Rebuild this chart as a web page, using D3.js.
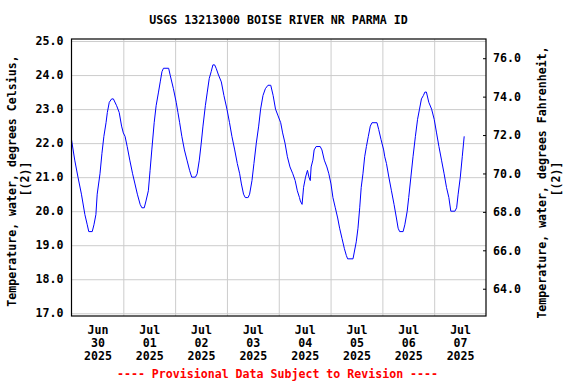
<!DOCTYPE html>
<html>
<head>
<meta charset="utf-8">
<style>
  body { margin: 0; background: #fff; }
  svg text { font-family: "DejaVu Sans Mono", monospace; font-weight: bold; font-size: 11.6px; }
</style>
</head>
<body>
<svg width="576" height="384"></svg>
<script src="https://cdn.jsdelivr.net/npm/d3@7"></script>
<script>
// Data: hours since Jun 30 2025 00:00 and water temperature (deg C)
const obsHours = [0, 1.5, 3, 4.6, 6.2, 7.3, 8, 9.6, 10.4, 11.3, 11.9, 13.2, 14.1, 15, 16, 16.6, 17.5, 18.6, 19.4, 20.9, 22.1, 23.2,
  24, 24.8, 25.8, 27, 28.3, 29.4, 30.5, 31.8, 32.6, 33.7, 34.5, 35.6, 36.4, 37.2, 38.3, 39.2, 40.3, 41.1, 41.9, 42.6, 45, 45.7, 47.2,
  48.5, 49.3, 50.1, 51.1, 52.3, 53.5, 54.7, 55.7, 57.4, 58.2, 59.2, 60.1, 60.9, 62, 62.9, 63.8, 64.7, 65.5, 66.3, 67, 68.1, 69.4, 70.6,
  72, 73.2, 74.3, 75.6, 76.8, 77.9, 78.7, 79.7, 80.5, 81.4, 81.8, 82.5, 83.6, 84.5, 85.6, 86.7, 87.6, 88.7, 89.8, 91, 92.3, 93.4, 94.5, 95.7,
  96.9, 97.8, 98.9, 100, 101.2, 102.5, 103.6, 104.6, 105.6, 106, 106.8, 107.5, 108.4, 109.3, 110, 110.6, 111, 111.8, 112.4, 113.3, 115.2, 116, 117.1, 118.3, 119.2,
  120.2, 121.1, 122.2, 123.3, 124.2, 125.3, 126.4, 127.3, 127.9, 130.4, 131, 131.9, 132.7, 133.5, 134.2, 135, 135.8, 136.6, 137.5, 138.4, 139.2, 141.5, 142.3, 143.4,
  144.6, 145.1, 145.9, 147, 148.2, 149.4, 150.5, 151.3, 152, 153.6, 154.4, 155.5, 156.2, 157.2, 158.2, 159.3, 160.3, 161.2, 162.1, 163, 163.7, 164.4, 165.5, 166.8,
  168, 169.1, 170.2, 171.4, 172.6, 173.7, 174.8, 175.7, 177.6, 178.4, 179.1, 180.1, 181, 181.6, 181.9];
const obsTempC = [22.1, 21.5, 21.0, 20.5, 19.9, 19.6, 19.4, 19.4, 19.6, 19.9, 20.5, 21.1, 21.7, 22.2, 22.6, 22.9, 23.2, 23.3, 23.3, 23.1, 22.9, 22.5,
  22.3, 22.2, 21.9, 21.5, 21.1, 20.8, 20.5, 20.2, 20.1, 20.1, 20.3, 20.6, 21.2, 21.8, 22.6, 23.1, 23.5, 23.8, 24.1, 24.2, 24.2, 24.0, 23.6,
  23.2, 22.9, 22.6, 22.2, 21.8, 21.5, 21.2, 21.0, 21.0, 21.1, 21.5, 22.0, 22.5, 23.1, 23.5, 23.9, 24.1, 24.3, 24.3, 24.2, 24.0, 23.8, 23.4,
  23.0, 22.6, 22.2, 21.8, 21.4, 21.1, 20.8, 20.5, 20.4, 20.4, 20.4, 20.5, 20.9, 21.4, 22.0, 22.5, 23.0, 23.4, 23.6, 23.7, 23.7, 23.4, 23.0, 22.8,
  22.6, 22.3, 22.0, 21.6, 21.3, 21.1, 20.9, 20.6, 20.4, 20.3, 20.2, 20.7, 21.0, 21.2, 21.0, 20.9, 21.3, 21.5, 21.8, 21.9, 21.9, 21.8, 21.5, 21.3, 21.1,
  20.8, 20.4, 20.1, 19.8, 19.5, 19.2, 18.9, 18.7, 18.6, 18.6, 18.8, 19.1, 19.5, 20.1, 20.7, 21.1, 21.6, 21.9, 22.2, 22.5, 22.6, 22.6, 22.4, 22.1,
  21.8, 21.6, 21.4, 21.0, 20.6, 20.2, 19.8, 19.5, 19.4, 19.4, 19.6, 20.0, 20.4, 21.0, 21.6, 22.2, 22.7, 23.0, 23.3, 23.4, 23.5, 23.5, 23.2, 23.0,
  22.7, 22.3, 21.9, 21.5, 21.1, 20.7, 20.4, 20.0, 20.0, 20.1, 20.5, 21.0, 21.6, 22.0, 22.2];

const dayMonths = ['Jun', 'Jul', 'Jul', 'Jul', 'Jul', 'Jul', 'Jul', 'Jul'];
const dayNums = ['30', '01', '02', '03', '04', '05', '06', '07'];
const dayYears = ['2025', '2025', '2025', '2025', '2025', '2025', '2025', '2025'];
const celsiusTicks = [17, 18, 19, 20, 21, 22, 23, 24, 25];
const fahrenheitTicks = [64, 66, 68, 70, 72, 74, 76];

const plot = {left: 71.5, right: 486, top: 39, bottom: 316};
const start = new Date(2025, 5, 30);
const hourMs = 3600 * 1000;

const x = d3.scaleTime()
  .domain([start, new Date(start.getTime() + 8 * 24 * hourMs)])
  .range([plot.left, plot.right]);
const y = d3.scaleLinear().domain([16.92, 25.06]).range([plot.bottom, plot.top]);
// the USGS Fahrenheit axis is scaled on its own
const yF = d3.scaleLinear().domain([62.58, 77.0]).range([plot.bottom, plot.top]);

const svg = d3.select('svg');
const w = plot.right - plot.left;
const h = plot.bottom - plot.top;

const midnights = d3.range(1, 8).map(i => new Date(start.getTime() + i * 24 * hourMs));
const noons = d3.range(8).map(i => new Date(start.getTime() + (i * 24 + 12) * hourMs));

// gridlines
svg.append('g')
  .attr('transform', 'translate(' + plot.left + ',0)')
  .call(d3.axisLeft(y).tickValues(celsiusTicks).tickSize(-w).tickFormat(''))
  .call(g => g.select('.domain').remove())
  .selectAll('line').attr('stroke', '#cccccc');
svg.append('g')
  .attr('transform', 'translate(0,' + plot.bottom + ')')
  .call(d3.axisBottom(x).tickValues(midnights).tickSize(-h).tickFormat(''))
  .call(g => g.select('.domain').remove())
  .selectAll('line').attr('stroke', '#cccccc');

// the series
const line = d3.line()
  .x((d, i) => x(new Date(start.getTime() + obsHours[i] * hourMs)))
  .y(d => y(d));
svg.append('path')
  .datum(obsTempC)
  .attr('fill', 'none')
  .attr('stroke', '#0000ff')
  .attr('stroke-width', 1)
  .attr('d', line);

// frame
svg.append('rect')
  .attr('x', plot.left).attr('y', plot.top)
  .attr('width', w).attr('height', h)
  .attr('fill', 'none').attr('stroke', '#000').attr('stroke-width', 1.2);

// left axis, Celsius
const leftAxis = svg.append('g')
  .attr('transform', 'translate(' + plot.left + ',0)')
  .call(d3.axisLeft(y).tickValues(celsiusTicks).tickSize(0).tickPadding(8).tickFormat(d3.format('.1f')));
leftAxis.select('.domain').remove();
leftAxis.selectAll('text').attr('fill', '#000').style('font-size', '11.6px').style('font-family', '"DejaVu Sans Mono", monospace');

// right axis, Fahrenheit, ticks point inward
const rightAxis = svg.append('g')
  .attr('transform', 'translate(' + plot.right + ',0)')
  .call(d3.axisRight(yF).tickValues(fahrenheitTicks).tickSize(-3).tickPadding(7).tickFormat(d3.format('.1f')));
rightAxis.select('.domain').remove();
rightAxis.selectAll('line').attr('stroke', '#000');
rightAxis.selectAll('text').attr('fill', '#000').style('font-size', '11.6px').style('font-family', '"DejaVu Sans Mono", monospace');

// bottom axis, three-line day labels at noon
const bottomAxis = svg.append('g')
  .attr('transform', 'translate(0,' + plot.bottom + ')')
  .call(d3.axisBottom(x).tickValues(noons).tickSize(0).tickFormat(''));
bottomAxis.select('.domain').remove();
bottomAxis.selectAll('.tick text')
  .attr('y', 0).attr('dy', null)
  .style('font-size', '11.6px').style('font-family', '"DejaVu Sans Mono", monospace')
  .attr('fill', '#000')
  .each(function(d, i) {
    const t = d3.select(this);
    t.append('tspan').attr('x', 0).attr('y', 18).text(dayMonths[i]);
    t.append('tspan').attr('x', 0).attr('y', 31).text(dayNums[i]);
    t.append('tspan').attr('x', 0).attr('y', 44).text(dayYears[i]);
  });

// title, axis titles, footer
svg.append('text').attr('x', 278.5).attr('y', 24).attr('text-anchor', 'middle')
  .text('USGS 13213000 BOISE RIVER NR PARMA ID');

svg.append('text').attr('transform', 'translate(15.5,181) rotate(-90)').attr('text-anchor', 'middle')
  .text('Temperature, water, degrees Celsius,');
svg.append('text').attr('transform', 'translate(28.5,179) rotate(-90)').attr('text-anchor', 'middle')
  .text('[(2)]');

svg.append('text').attr('transform', 'translate(546,182.5) rotate(-90)').attr('text-anchor', 'middle')
  .text('Temperature, water, degrees Fahrenheit,');
svg.append('text').attr('transform', 'translate(559.5,179) rotate(-90)').attr('text-anchor', 'middle')
  .text('[(2)]');

svg.append('text').attr('x', 277.5).attr('y', 378).attr('text-anchor', 'middle')
  .attr('fill', '#ff0000')
  .text('---- Provisional Data Subject to Revision ----');
</script>
</body>
</html>
